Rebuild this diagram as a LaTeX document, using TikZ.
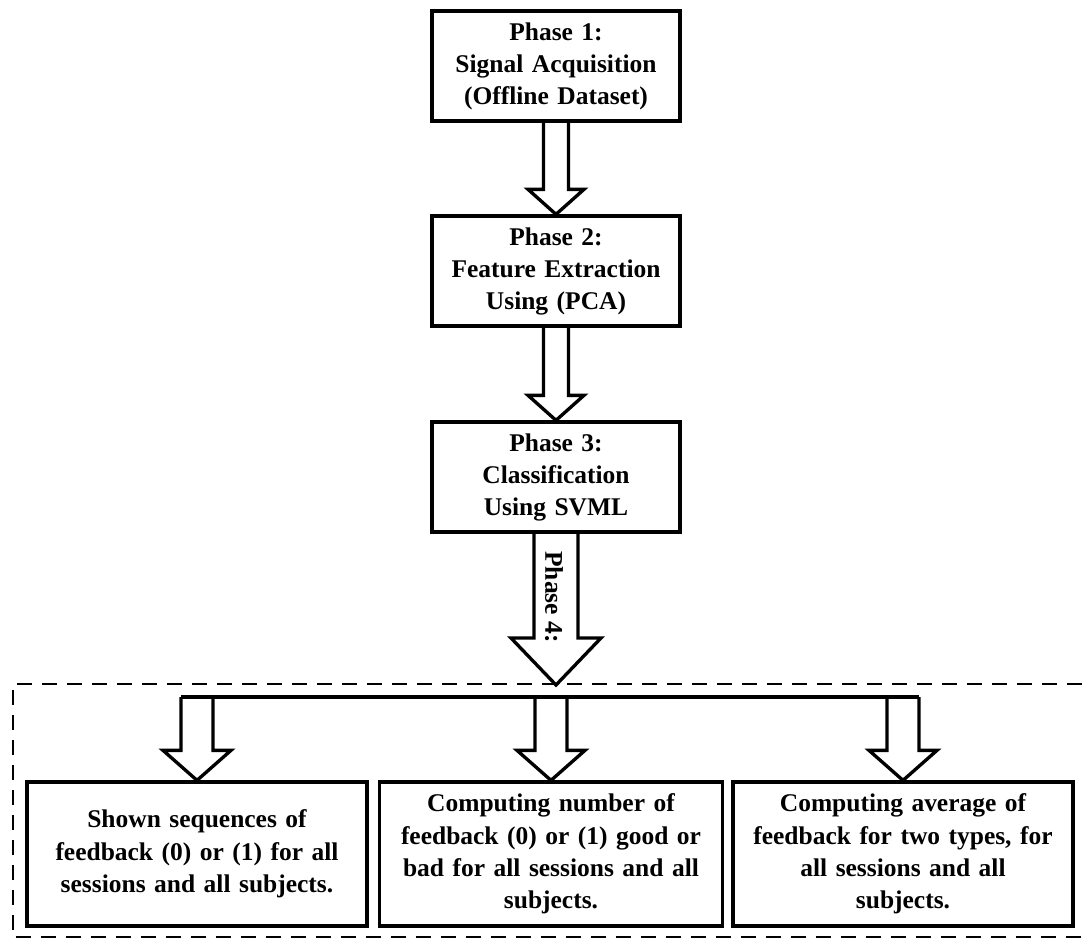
\documentclass[tikz,border=0pt]{standalone}
\usepackage{fontspec}
\setmainfont{Liberation Serif}
\usetikzlibrary{calc}

\tikzset{
  phasebox/.style={draw, line width=1.9pt, minimum width=4.96cm, minimum height=2.2cm,
    text width=4.6cm, align=center, font=\fontsize{14.5}{18.2}\selectfont\bfseries},
  taskbox/.style={draw, line width=1.9pt, minimum height=2.88cm,
    align=center, font=\fontsize{14.5}{18.4}\selectfont\bfseries},
  blockarrow/.style={line width=1.9pt, line join=miter},
  groupframe/.style={line width=1.5pt, dash pattern=on 0.3cm off 0.2cm}
}
% block arrow: from, to, half shaft, half head, head length
\newcommand{\blockarrow}[5]{%
  \draw[blockarrow] ($(#1)+(-#3,0)$) -- ($(#2)+(-#3,-#5)$) -- ($(#2)+(-#4,-#5)$) -- (#2)
    -- ($(#2)+(#4,-#5)$) -- ($(#2)+(#3,-#5)$) -- ($(#1)+(#3,0)$);}

\begin{document}
\begin{tikzpicture}[x=0.02cm,y=-0.02cm]
    \useasboundingbox (0,0) rectangle (1082,947);

    % phases 1 to 3
    \draw (556,66)  node[phasebox] (ph1) {Phase 1:\\ Signal Acquisition\\ (Offline Dataset)};
    \draw (556,271) node[phasebox] (ph2) {Phase 2:\\ Feature Extraction\\ Using (PCA)};
    \draw (556,477) node[phasebox] (ph3) {Phase 3:\\ Classification\\ Using SVML};

    \blockarrow{ph1.south}{ph2.north}{12.5}{28}{25}
    \blockarrow{ph2.south}{ph3.north}{12.5}{28}{25}

    % phase 4
    \coordinate (tip4) at (556,685);
    \blockarrow{ph3.south}{tip4}{22}{45}{47}
    \draw (554,597) node[rotate=-90, font=\fontsize{14.5}{17}\selectfont\bfseries] (lab4) {Phase 4:};

    \draw[groupframe] (1082,684) -- (13,684) -- (13,937) -- (1082,937);

    \draw (197,854) node[taskbox, minimum width=6.8cm, text width=6.4cm] (out1)
      {Shown sequences of\\ feedback (0) or (1) for all\\ sessions and all subjects.};
    \draw (551,854) node[taskbox, minimum width=6.86cm, text width=6.5cm] (out2)
      {Computing number of\\ feedback (0) or (1) good or\\ bad for all sessions and all\\ subjects.};
    \draw (903,854) node[taskbox, minimum width=6.8cm, text width=6.4cm] (out3)
      {Computing average of\\ feedback for two types, for\\ all sessions and all\\ subjects.};

    % split line
    \coordinate (rail) at (0,697);
    \coordinate (s1) at (out1.north |- rail);
    \coordinate (s2) at (out2.north |- rail);
    \coordinate (s3) at (out3.north |- rail);
    \draw[blockarrow] ($(s1)+(-16,0)$) -- ($(s3)+(16,0)$);

    \blockarrow{s1}{out1.north}{16}{34}{30}
    \blockarrow{s2}{out2.north}{16}{34}{30}
    \blockarrow{s3}{out3.north}{16}{34}{30}
  \end{tikzpicture}
\end{document}
